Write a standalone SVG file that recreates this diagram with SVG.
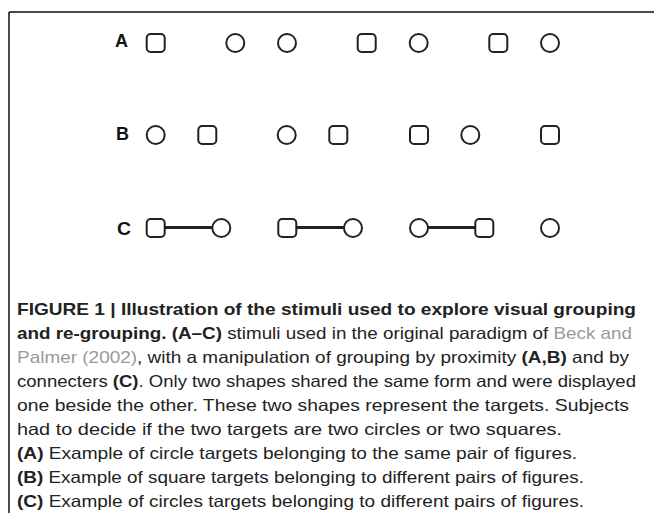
<svg xmlns="http://www.w3.org/2000/svg" width="654" height="513" viewBox="0 0 654 513">
<style>
.sq{fill:#fff;stroke:#222;stroke-width:2}
.ci{fill:#fff;stroke:#222;stroke-width:2}
.lbl{font-family:"Liberation Sans",Arial,sans-serif;font-weight:bold;font-size:18px;fill:#111}
.cap{font-family:"Liberation Sans",Arial,sans-serif;font-size:16.5px;fill:#222}
.b{font-weight:bold}
.g{fill:#9a9a9a}
.con{stroke:#222;stroke-width:3;fill:none}
</style>
<defs>
<rect id="square" x="-9" y="-9" width="18" height="18" rx="4"/>
<circle id="circ" r="9"/>
</defs>
<g id="frame" fill="none" stroke="#111" stroke-width="1.5">
<path d="M9 12H654M9 12V513"/>
</g>
<g id="connectors">
<line class="con" x1="164.7" y1="227.5" x2="212.3" y2="227.5"/>
<line class="con" x1="296.3" y1="227.5" x2="344" y2="227.5"/>
<line class="con" x1="428" y1="227.5" x2="475.3" y2="227.5"/>
</g>
<g id="rowA">
<text class="lbl" x="115" y="47" textLength="13" lengthAdjust="spacingAndGlyphs">A</text>
<use href="#square" class="sq" x="155.7" y="43"/>
<use href="#circ" class="ci" x="235.3" y="43"/>
<use href="#circ" class="ci" x="287" y="43"/>
<use href="#square" class="sq" x="366.7" y="43"/>
<use href="#circ" class="ci" x="418.7" y="43"/>
<use href="#square" class="sq" x="498.3" y="43"/>
<use href="#circ" class="ci" x="550" y="43"/>
</g>
<g id="rowB">
<text class="lbl" x="116" y="140" textLength="13" lengthAdjust="spacingAndGlyphs">B</text>
<use href="#circ" class="ci" x="155.7" y="135"/>
<use href="#square" class="sq" x="207.3" y="135"/>
<use href="#circ" class="ci" x="286.7" y="135"/>
<use href="#square" class="sq" x="338.3" y="135"/>
<use href="#square" class="sq" x="419" y="135"/>
<use href="#circ" class="ci" x="470.3" y="135"/>
<use href="#square" class="sq" x="550" y="135"/>
</g>
<g id="rowC">
<text class="lbl" x="117" y="234.5" textLength="14" lengthAdjust="spacingAndGlyphs">C</text>
<use href="#square" class="sq" x="155.7" y="228"/>
<use href="#circ" class="ci" x="221.3" y="228"/>
<use href="#square" class="sq" x="287.3" y="228"/>
<use href="#circ" class="ci" x="353" y="228"/>
<use href="#circ" class="ci" x="419" y="228"/>
<use href="#square" class="sq" x="484.3" y="228"/>
<use href="#circ" class="ci" x="550" y="228"/>
</g>
<g id="caption">
<text class="cap b" x="17" y="315" textLength="619" lengthAdjust="spacingAndGlyphs">FIGURE 1 | Illustration of the stimuli used to explore visual grouping</text>
<text class="cap" x="17" y="339" textLength="615" lengthAdjust="spacingAndGlyphs"><tspan class="b">and re-grouping. (A–C)</tspan> stimuli used in the original paradigm of <tspan class="g">Beck and</tspan></text>
<text class="cap" x="17" y="363" textLength="612" lengthAdjust="spacingAndGlyphs"><tspan class="g">Palmer (2002)</tspan>, with a manipulation of grouping by proximity <tspan class="b">(A,B)</tspan> and by</text>
<text class="cap" x="17" y="387" textLength="619" lengthAdjust="spacingAndGlyphs">connecters <tspan class="b">(C)</tspan>. Only two shapes shared the same form and were displayed</text>
<text class="cap" x="17" y="411" textLength="612" lengthAdjust="spacingAndGlyphs">one beside the other. These two shapes represent the targets. Subjects</text>
<text class="cap" x="17" y="435" textLength="545" lengthAdjust="spacingAndGlyphs">had to decide if the two targets are two circles or two squares.</text>
<text class="cap" x="17" y="459" textLength="560" lengthAdjust="spacingAndGlyphs"><tspan class="b">(A)</tspan> Example of circle targets belonging to the same pair of figures.</text>
<text class="cap" x="17" y="483" textLength="567" lengthAdjust="spacingAndGlyphs"><tspan class="b">(B)</tspan> Example of square targets belonging to different pairs of figures.</text>
<text class="cap" x="17" y="507" textLength="567" lengthAdjust="spacingAndGlyphs"><tspan class="b">(C)</tspan> Example of circles targets belonging to different pairs of figures.</text>
</g>
</svg>
